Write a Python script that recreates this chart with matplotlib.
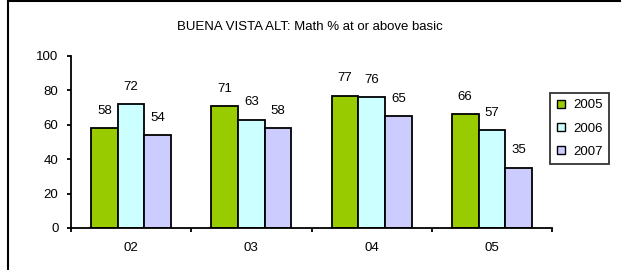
import matplotlib
matplotlib.use("Agg")
import matplotlib.pyplot as plt
from matplotlib.lines import Line2D
import numpy as np

plt.rcParams['font.family'] = ['Liberation Sans', 'DejaVu Sans']

title = "BUENA VISTA ALT: Math % at or above basic"
categories = ["02", "03", "04", "05"]
series_names = ["2005", "2006", "2007"]
v2005 = [58, 71, 77, 66]
v2006 = [72, 63, 76, 57]
v2007 = [54, 58, 65, 35]
colors = ["#99CC00", "#CCFFFF", "#CCCCFF"]
yticks = [0, 20, 40, 60, 80, 100]

W, H = 621, 270
fs = 9.5
fig = plt.figure(figsize=(W / 100, H / 100), dpi=100)
ax = fig.add_axes([71 / W, 1 - 228 / H, (552 - 71) / W, (228 - 56) / H])

x = np.arange(len(categories))
bw = 1 / 4.5
series = [v2005, v2006, v2007]
for i, (vals, c, name) in enumerate(zip(series, colors, series_names)):
    pos = x + (i - 1) * bw
    ax.bar(pos, vals, width=bw, color=c, edgecolor="black", linewidth=1.3, label=name)
    for xp, v in zip(pos, vals):
        ax.annotate(str(v), (xp, v), xytext=(0, 12.5), textcoords="offset points",
                    ha="center", va="center", fontsize=fs)

ax.set_xlim(-0.5, len(categories) - 0.5)
ax.set_ylim(0, 100)
ax.set_yticks(yticks)
ax.set_xticks(x)
ax.set_xticklabels(categories)
ax.set_xticks(np.arange(len(categories) + 1) - 0.5, minor=True)
ax.tick_params(axis="x", which="major", length=0, pad=10, labelsize=fs)
ax.tick_params(axis="x", which="minor", length=3, width=1.3, direction="out")
ax.tick_params(axis="y", length=3, width=1.3, pad=6, labelsize=fs)
for s in ["top", "right"]:
    ax.spines[s].set_visible(False)
for s in ["left", "bottom"]:
    ax.spines[s].set_linewidth(1.3)

fig.text(310 / W, 1 - 27 / H, title, ha="center", va="center", fontsize=fs)

handles = [Line2D([], [], linestyle="none", marker="s", markersize=5.5,
                  markerfacecolor=c, markeredgecolor="black", markeredgewidth=1)
           for c in colors]
leg = fig.legend(handles, series_names, loc="upper left",
                 bbox_to_anchor=(550 / W, 1 - 93 / H), fontsize=fs,
                 frameon=True, fancybox=False, handlelength=0.8, handletextpad=0.5,
                 labelspacing=0.85, borderpad=0.45, borderaxespad=0)
leg.get_frame().set_edgecolor("black")
leg.get_frame().set_linewidth(1.3)

fig.add_artist(Line2D([8 / W, 8 / W], [0, 1 - 1 / H], color="black", linewidth=1.5))
fig.add_artist(Line2D([8 / W, 1], [1 - 1 / H, 1 - 1 / H], color="black", linewidth=1.5))

fig.savefig("out.png", dpi=100)
